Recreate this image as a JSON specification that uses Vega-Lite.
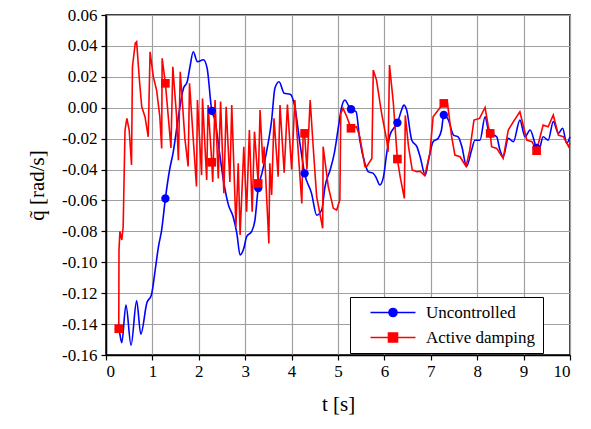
{
  "$schema": "https://vega.github.io/schema/vega-lite/v6.json",
  "autosize": "none",
  "width": 464,
  "height": 340,
  "padding": {"left": 106, "top": 15, "right": 21, "bottom": 74},
  "background": "white",
  "config": {
    "view": {"stroke": "black", "strokeWidth": 1.5}
  },
  "resolve": {"axis": {"x": "independent", "y": "independent"}},
  "data": {"values": [
    {"s":"Uncontrolled","t":0.27,"q":-0.1417,"m":0},
    {"s":"Uncontrolled","t":0.28,"q":-0.143,"m":1},
    {"s":"Uncontrolled","t":0.34,"q":-0.152,"m":0},
    {"s":"Uncontrolled","t":0.43,"q":-0.1277,"m":0},
    {"s":"Uncontrolled","t":0.54,"q":-0.1536,"m":0},
    {"s":"Uncontrolled","t":0.66,"q":-0.125,"m":0},
    {"s":"Uncontrolled","t":0.75,"q":-0.1465,"m":0},
    {"s":"Uncontrolled","t":0.88,"q":-0.1264,"m":0},
    {"s":"Uncontrolled","t":0.98,"q":-0.121,"m":0},
    {"s":"Uncontrolled","t":1.06,"q":-0.105,"m":0},
    {"s":"Uncontrolled","t":1.13,"q":-0.09,"m":0},
    {"s":"Uncontrolled","t":1.20,"q":-0.079,"m":0},
    {"s":"Uncontrolled","t":1.28,"q":-0.0587,"m":1},
    {"s":"Uncontrolled","t":1.37,"q":-0.0403,"m":0},
    {"s":"Uncontrolled","t":1.45,"q":-0.0285,"m":0},
    {"s":"Uncontrolled","t":1.56,"q":-0.0058,"m":0},
    {"s":"Uncontrolled","t":1.67,"q":0.0126,"m":0},
    {"s":"Uncontrolled","t":1.75,"q":0.0168,"m":0},
    {"s":"Uncontrolled","t":1.81,"q":0.0265,"m":0},
    {"s":"Uncontrolled","t":1.88,"q":0.0362,"m":0},
    {"s":"Uncontrolled","t":1.97,"q":0.0298,"m":0},
    {"s":"Uncontrolled","t":2.10,"q":0.031,"m":0},
    {"s":"Uncontrolled","t":2.18,"q":0.0255,"m":0},
    {"s":"Uncontrolled","t":2.28,"q":-0.002,"m":1},
    {"s":"Uncontrolled","t":2.35,"q":-0.008,"m":0},
    {"s":"Uncontrolled","t":2.42,"q":-0.023,"m":0},
    {"s":"Uncontrolled","t":2.53,"q":-0.0468,"m":0},
    {"s":"Uncontrolled","t":2.64,"q":-0.063,"m":0},
    {"s":"Uncontrolled","t":2.74,"q":-0.0705,"m":0},
    {"s":"Uncontrolled","t":2.82,"q":-0.0813,"m":0},
    {"s":"Uncontrolled","t":2.89,"q":-0.0953,"m":0},
    {"s":"Uncontrolled","t":2.97,"q":-0.091,"m":0},
    {"s":"Uncontrolled","t":3.03,"q":-0.0835,"m":0},
    {"s":"Uncontrolled","t":3.14,"q":-0.080,"m":0},
    {"s":"Uncontrolled","t":3.21,"q":-0.0727,"m":0},
    {"s":"Uncontrolled","t":3.28,"q":-0.052,"m":1},
    {"s":"Uncontrolled","t":3.36,"q":-0.0425,"m":0},
    {"s":"Uncontrolled","t":3.46,"q":-0.0285,"m":0},
    {"s":"Uncontrolled","t":3.57,"q":-0.008,"m":0},
    {"s":"Uncontrolled","t":3.64,"q":0.0126,"m":0},
    {"s":"Uncontrolled","t":3.73,"q":0.0168,"m":0},
    {"s":"Uncontrolled","t":3.84,"q":0.0093,"m":0},
    {"s":"Uncontrolled","t":3.97,"q":0.0087,"m":0},
    {"s":"Uncontrolled","t":4.07,"q":0.0006,"m":0},
    {"s":"Uncontrolled","t":4.18,"q":-0.023,"m":0},
    {"s":"Uncontrolled","t":4.28,"q":-0.0425,"m":1},
    {"s":"Uncontrolled","t":4.43,"q":-0.0554,"m":0},
    {"s":"Uncontrolled","t":4.54,"q":-0.0695,"m":0},
    {"s":"Uncontrolled","t":4.65,"q":-0.066,"m":0},
    {"s":"Uncontrolled","t":4.72,"q":-0.051,"m":0},
    {"s":"Uncontrolled","t":4.83,"q":-0.0403,"m":0},
    {"s":"Uncontrolled","t":4.92,"q":-0.0295,"m":0},
    {"s":"Uncontrolled","t":5.01,"q":-0.0123,"m":0},
    {"s":"Uncontrolled","t":5.08,"q":0.0006,"m":0},
    {"s":"Uncontrolled","t":5.15,"q":0.005,"m":0},
    {"s":"Uncontrolled","t":5.22,"q":0.0017,"m":0},
    {"s":"Uncontrolled","t":5.28,"q":-0.001,"m":1},
    {"s":"Uncontrolled","t":5.39,"q":-0.0026,"m":0},
    {"s":"Uncontrolled","t":5.47,"q":-0.021,"m":0},
    {"s":"Uncontrolled","t":5.58,"q":-0.036,"m":0},
    {"s":"Uncontrolled","t":5.65,"q":-0.0414,"m":0},
    {"s":"Uncontrolled","t":5.76,"q":-0.0425,"m":0},
    {"s":"Uncontrolled","t":5.83,"q":-0.0457,"m":0},
    {"s":"Uncontrolled","t":5.90,"q":-0.050,"m":0},
    {"s":"Uncontrolled","t":5.98,"q":-0.0447,"m":0},
    {"s":"Uncontrolled","t":6.05,"q":-0.0295,"m":0},
    {"s":"Uncontrolled","t":6.12,"q":-0.0177,"m":0},
    {"s":"Uncontrolled","t":6.20,"q":-0.0133,"m":0},
    {"s":"Uncontrolled","t":6.28,"q":-0.0097,"m":1},
    {"s":"Uncontrolled","t":6.37,"q":-0.0015,"m":0},
    {"s":"Uncontrolled","t":6.42,"q":0.0017,"m":0},
    {"s":"Uncontrolled","t":6.48,"q":-0.0015,"m":0},
    {"s":"Uncontrolled","t":6.59,"q":-0.021,"m":0},
    {"s":"Uncontrolled","t":6.70,"q":-0.0252,"m":0},
    {"s":"Uncontrolled","t":6.77,"q":-0.0317,"m":0},
    {"s":"Uncontrolled","t":6.88,"q":-0.0436,"m":0},
    {"s":"Uncontrolled","t":6.95,"q":-0.034,"m":0},
    {"s":"Uncontrolled","t":7.05,"q":-0.022,"m":0},
    {"s":"Uncontrolled","t":7.16,"q":-0.0198,"m":0},
    {"s":"Uncontrolled","t":7.23,"q":-0.0144,"m":0},
    {"s":"Uncontrolled","t":7.28,"q":-0.0047,"m":1},
    {"s":"Uncontrolled","t":7.38,"q":-0.008,"m":0},
    {"s":"Uncontrolled","t":7.49,"q":-0.0177,"m":0},
    {"s":"Uncontrolled","t":7.59,"q":-0.0188,"m":0},
    {"s":"Uncontrolled","t":7.67,"q":-0.0252,"m":0},
    {"s":"Uncontrolled","t":7.77,"q":-0.038,"m":0},
    {"s":"Uncontrolled","t":7.88,"q":-0.0274,"m":0},
    {"s":"Uncontrolled","t":7.95,"q":-0.021,"m":0},
    {"s":"Uncontrolled","t":8.06,"q":-0.021,"m":0},
    {"s":"Uncontrolled","t":8.17,"q":-0.0058,"m":0},
    {"s":"Uncontrolled","t":8.24,"q":-0.0144,"m":0},
    {"s":"Uncontrolled","t":8.28,"q":-0.0166,"m":1},
    {"s":"Uncontrolled","t":8.42,"q":-0.0188,"m":0},
    {"s":"Uncontrolled","t":8.49,"q":-0.0274,"m":0},
    {"s":"Uncontrolled","t":8.56,"q":-0.0317,"m":0},
    {"s":"Uncontrolled","t":8.67,"q":-0.0198,"m":0},
    {"s":"Uncontrolled","t":8.78,"q":-0.022,"m":0},
    {"s":"Uncontrolled","t":8.92,"q":-0.008,"m":0},
    {"s":"Uncontrolled","t":9.03,"q":-0.0188,"m":0},
    {"s":"Uncontrolled","t":9.14,"q":-0.0144,"m":0},
    {"s":"Uncontrolled","t":9.28,"q":-0.026,"m":1},
    {"s":"Uncontrolled","t":9.33,"q":-0.0274,"m":0},
    {"s":"Uncontrolled","t":9.42,"q":-0.0188,"m":0},
    {"s":"Uncontrolled","t":9.53,"q":-0.021,"m":0},
    {"s":"Uncontrolled","t":9.64,"q":-0.009,"m":0},
    {"s":"Uncontrolled","t":9.75,"q":-0.0166,"m":0},
    {"s":"Uncontrolled","t":9.84,"q":-0.0133,"m":0},
    {"s":"Uncontrolled","t":9.93,"q":-0.023,"m":0},
    {"s":"Uncontrolled","t":10.0,"q":-0.0188,"m":0},

    {"s":"Active damping","t":0.275,"q":-0.143,"m":1},
    {"s":"Active damping","t":0.28,"q":-0.092,"m":0},
    {"s":"Active damping","t":0.30,"q":-0.080,"m":0},
    {"s":"Active damping","t":0.34,"q":-0.0856,"m":0},
    {"s":"Active damping","t":0.37,"q":-0.077,"m":0},
    {"s":"Active damping","t":0.41,"q":-0.0144,"m":0},
    {"s":"Active damping","t":0.45,"q":-0.0069,"m":0},
    {"s":"Active damping","t":0.50,"q":-0.0144,"m":0},
    {"s":"Active damping","t":0.55,"q":-0.037,"m":0},
    {"s":"Active damping","t":0.57,"q":0.0265,"m":0},
    {"s":"Active damping","t":0.63,"q":0.0417,"m":0},
    {"s":"Active damping","t":0.66,"q":0.0427,"m":0},
    {"s":"Active damping","t":0.72,"q":0.0179,"m":0},
    {"s":"Active damping","t":0.77,"q":0.0006,"m":0},
    {"s":"Active damping","t":0.84,"q":-0.0058,"m":0},
    {"s":"Active damping","t":0.91,"q":-0.0188,"m":0},
    {"s":"Active damping","t":0.95,"q":0.0362,"m":0},
    {"s":"Active damping","t":1.02,"q":0.02,"m":0},
    {"s":"Active damping","t":1.09,"q":0.0115,"m":0},
    {"s":"Active damping","t":1.16,"q":-0.0058,"m":0},
    {"s":"Active damping","t":1.20,"q":-0.0263,"m":0},
    {"s":"Active damping","t":1.21,"q":0.032,"m":0},
    {"s":"Active damping","t":1.28,"q":0.0158,"m":1},
    {"s":"Active damping","t":1.40,"q":-0.026,"m":0},
    {"s":"Active damping","t":1.44,"q":0.0265,"m":0},
    {"s":"Active damping","t":1.52,"q":-0.005,"m":0},
    {"s":"Active damping","t":1.56,"q":-0.034,"m":0},
    {"s":"Active damping","t":1.60,"q":0.0233,"m":0},
    {"s":"Active damping","t":1.70,"q":-0.02,"m":0},
    {"s":"Active damping","t":1.77,"q":-0.038,"m":0},
    {"s":"Active damping","t":1.80,"q":0.0158,"m":0},
    {"s":"Active damping","t":1.88,"q":-0.02,"m":0},
    {"s":"Active damping","t":1.95,"q":-0.051,"m":0},
    {"s":"Active damping","t":1.97,"q":0.005,"m":0},
    {"s":"Active damping","t":2.06,"q":-0.0436,"m":0},
    {"s":"Active damping","t":2.08,"q":0.006,"m":0},
    {"s":"Active damping","t":2.17,"q":-0.0468,"m":0},
    {"s":"Active damping","t":2.20,"q":0.0017,"m":0},
    {"s":"Active damping","t":2.28,"q":-0.0353,"m":1},
    {"s":"Active damping","t":2.30,"q":-0.048,"m":0},
    {"s":"Active damping","t":2.35,"q":0.005,"m":0},
    {"s":"Active damping","t":2.42,"q":-0.0457,"m":0},
    {"s":"Active damping","t":2.47,"q":0.004,"m":0},
    {"s":"Active damping","t":2.54,"q":-0.0554,"m":0},
    {"s":"Active damping","t":2.59,"q":0.0006,"m":0},
    {"s":"Active damping","t":2.67,"q":-0.048,"m":0},
    {"s":"Active damping","t":2.71,"q":0.0017,"m":0},
    {"s":"Active damping","t":2.80,"q":-0.077,"m":0},
    {"s":"Active damping","t":2.85,"q":-0.036,"m":0},
    {"s":"Active damping","t":2.89,"q":-0.0824,"m":0},
    {"s":"Active damping","t":2.97,"q":-0.0252,"m":0},
    {"s":"Active damping","t":3.03,"q":-0.0673,"m":0},
    {"s":"Active damping","t":3.09,"q":-0.0144,"m":0},
    {"s":"Active damping","t":3.15,"q":-0.0673,"m":0},
    {"s":"Active damping","t":3.20,"q":-0.0155,"m":0},
    {"s":"Active damping","t":3.28,"q":-0.049,"m":1},
    {"s":"Active damping","t":3.32,"q":-0.0015,"m":0},
    {"s":"Active damping","t":3.38,"q":-0.036,"m":0},
    {"s":"Active damping","t":3.41,"q":-0.0252,"m":0},
    {"s":"Active damping","t":3.51,"q":-0.0878,"m":0},
    {"s":"Active damping","t":3.53,"q":-0.036,"m":0},
    {"s":"Active damping","t":3.57,"q":-0.0565,"m":0},
    {"s":"Active damping","t":3.62,"q":-0.0069,"m":0},
    {"s":"Active damping","t":3.71,"q":-0.0447,"m":0},
    {"s":"Active damping","t":3.75,"q":0.0017,"m":0},
    {"s":"Active damping","t":3.84,"q":-0.042,"m":0},
    {"s":"Active damping","t":3.91,"q":0.002,"m":0},
    {"s":"Active damping","t":4.00,"q":-0.040,"m":0},
    {"s":"Active damping","t":4.07,"q":0.005,"m":0},
    {"s":"Active damping","t":4.14,"q":-0.0274,"m":0},
    {"s":"Active damping","t":4.22,"q":-0.0619,"m":0},
    {"s":"Active damping","t":4.25,"q":-0.0144,"m":0},
    {"s":"Active damping","t":4.28,"q":-0.0166,"m":1},
    {"s":"Active damping","t":4.33,"q":-0.040,"m":0},
    {"s":"Active damping","t":4.40,"q":0.005,"m":0},
    {"s":"Active damping","t":4.47,"q":-0.0274,"m":0},
    {"s":"Active damping","t":4.54,"q":-0.0576,"m":0},
    {"s":"Active damping","t":4.67,"q":-0.078,"m":0},
    {"s":"Active damping","t":4.68,"q":-0.0252,"m":0},
    {"s":"Active damping","t":4.79,"q":-0.051,"m":0},
    {"s":"Active damping","t":4.90,"q":-0.0651,"m":0},
    {"s":"Active damping","t":4.97,"q":-0.0662,"m":0},
    {"s":"Active damping","t":5.04,"q":-0.0597,"m":0},
    {"s":"Active damping","t":5.06,"q":-0.0036,"m":0},
    {"s":"Active damping","t":5.11,"q":-0.0004,"m":0},
    {"s":"Active damping","t":5.19,"q":-0.0058,"m":0},
    {"s":"Active damping","t":5.28,"q":-0.0133,"m":1},
    {"s":"Active damping","t":5.40,"q":-0.0123,"m":0},
    {"s":"Active damping","t":5.47,"q":-0.0188,"m":0},
    {"s":"Active damping","t":5.58,"q":-0.038,"m":0},
    {"s":"Active damping","t":5.62,"q":-0.038,"m":0},
    {"s":"Active damping","t":5.73,"q":-0.0328,"m":0},
    {"s":"Active damping","t":5.76,"q":0.0244,"m":0},
    {"s":"Active damping","t":5.83,"q":0.0179,"m":0},
    {"s":"Active damping","t":5.94,"q":-0.0036,"m":0},
    {"s":"Active damping","t":6.05,"q":-0.021,"m":0},
    {"s":"Active damping","t":6.08,"q":-0.0285,"m":0},
    {"s":"Active damping","t":6.11,"q":0.0276,"m":0},
    {"s":"Active damping","t":6.19,"q":0.004,"m":0},
    {"s":"Active damping","t":6.28,"q":-0.0332,"m":1},
    {"s":"Active damping","t":6.34,"q":-0.0447,"m":0},
    {"s":"Active damping","t":6.43,"q":-0.0587,"m":0},
    {"s":"Active damping","t":6.45,"q":-0.005,"m":0},
    {"s":"Active damping","t":6.52,"q":-0.0252,"m":0},
    {"s":"Active damping","t":6.60,"q":-0.0403,"m":0},
    {"s":"Active damping","t":6.70,"q":-0.0414,"m":0},
    {"s":"Active damping","t":6.77,"q":-0.041,"m":0},
    {"s":"Active damping","t":6.87,"q":-0.044,"m":0},
    {"s":"Active damping","t":6.98,"q":-0.0295,"m":0},
    {"s":"Active damping","t":7.05,"q":-0.0058,"m":0},
    {"s":"Active damping","t":7.16,"q":-0.0015,"m":0},
    {"s":"Active damping","t":7.28,"q":0.0028,"m":1},
    {"s":"Active damping","t":7.36,"q":0.0028,"m":0},
    {"s":"Active damping","t":7.45,"q":-0.0188,"m":0},
    {"s":"Active damping","t":7.52,"q":-0.0306,"m":0},
    {"s":"Active damping","t":7.63,"q":-0.0317,"m":0},
    {"s":"Active damping","t":7.76,"q":-0.038,"m":0},
    {"s":"Active damping","t":7.84,"q":-0.0274,"m":0},
    {"s":"Active damping","t":7.93,"q":-0.008,"m":0},
    {"s":"Active damping","t":8.05,"q":-0.0069,"m":0},
    {"s":"Active damping","t":8.17,"q":0.0002,"m":0},
    {"s":"Active damping","t":8.24,"q":-0.0123,"m":0},
    {"s":"Active damping","t":8.28,"q":-0.0166,"m":1},
    {"s":"Active damping","t":8.31,"q":-0.0252,"m":0},
    {"s":"Active damping","t":8.42,"q":-0.0263,"m":0},
    {"s":"Active damping","t":8.56,"q":-0.0328,"m":0},
    {"s":"Active damping","t":8.67,"q":-0.0144,"m":0},
    {"s":"Active damping","t":8.78,"q":-0.009,"m":0},
    {"s":"Active damping","t":8.92,"q":-0.0026,"m":0},
    {"s":"Active damping","t":9.07,"q":-0.021,"m":0},
    {"s":"Active damping","t":9.18,"q":-0.022,"m":0},
    {"s":"Active damping","t":9.28,"q":-0.0278,"m":1},
    {"s":"Active damping","t":9.42,"q":-0.0112,"m":0},
    {"s":"Active damping","t":9.53,"q":-0.0123,"m":0},
    {"s":"Active damping","t":9.64,"q":-0.0047,"m":0},
    {"s":"Active damping","t":9.75,"q":-0.0177,"m":0},
    {"s":"Active damping","t":9.86,"q":-0.0188,"m":0},
    {"s":"Active damping","t":9.97,"q":-0.0252,"m":0},
    {"s":"Active damping","t":10.0,"q":-0.023,"m":0}
  ]},
  "layer": [
    {"transform": [{"filter": "datum.s === 'Uncontrolled'"}],
     "mark": {"type": "line", "interpolate": "monotone", "strokeWidth": 1.6},
     "encoding": {
       "x": {"field": "t", "type": "quantitative",
         "scale": {"domain": [0, 10], "nice": false, "zero": false},
         "axis": {"values": [0,1,2,3,4,5,6,7,8,9,10], "title": "t [s]",
           "grid": true, "gridColor": "#a0a0a0", "gridWidth": 1.2, "gridOpacity": 1,
           "labelFont": "Liberation Serif", "labelFontSize": 17, "labelColor": "black",
           "titleFont": "Liberation Serif", "titleFontSize": 21, "titleFontWeight": "normal", "titleColor": "black",
           "domainColor": "black", "domainWidth": 1.5, "tickColor": "black", "tickSize": 5, "tickWidth": 1.2,
           "titlePadding": 14, "labelPadding": 3}},
       "y": {"field": "q", "type": "quantitative",
         "scale": {"domain": [-0.16, 0.06], "nice": false, "zero": false},
         "axis": {"values": [-0.16,-0.14,-0.12,-0.1,-0.08,-0.06,-0.04,-0.02,0,0.02,0.04,0.06],
           "labelExpr": "replace(format(datum.value, '.2f'), '\u2212', '-')",
           "title": "q\u0303 [rad/s]",
           "grid": true, "gridColor": "#a0a0a0", "gridWidth": 1.2, "gridOpacity": 1,
           "labelFont": "Liberation Serif", "labelFontSize": 17, "labelColor": "black",
           "titleFont": "Liberation Serif", "titleFontSize": 21, "titleFontWeight": "normal", "titleColor": "black",
           "domainColor": "black", "domainWidth": 1.5, "tickColor": "black", "tickSize": 5, "tickWidth": 1.2,
           "titlePadding": 14, "labelPadding": 4}},
       "color": {"field": "s", "type": "nominal",
         "scale": {"domain": ["Uncontrolled", "Active damping"], "range": ["#0000ff", "#ff0000"]},
         "legend": {
           "title": null, "orient": "none", "legendX": 244, "legendY": 282,
           "strokeColor": "black", "fillColor": "white", "padding": 7,
           "labelFont": "Liberation Serif", "labelFontSize": 17, "labelColor": "black",
           "labelOffset": 52, "rowPadding": 7,
           "symbolType": "M1,0L10,0",
           "symbolSize": 100,
           "encode": {"symbols": {"update": {
             "fill": {"scale": "color", "field": "value"},
             "shape": {"signal": "datum.value === 'Uncontrolled' ? 'M1,0L10,0M4.7,0A0.8,0.8 0 1,1 6.3,0A0.8,0.8 0 1,1 4.7,0Z' : 'M1,0L10,0M4.6,-0.9L6.4,-0.9L6.4,0.9L4.6,0.9Z'"},
             "size": {"value": 100},
             "strokeWidth": {"value": 1.6},
             "opacity": {"value": 1}
           }}}
         }}
     }},
    {"transform": [{"filter": "datum.s === 'Active damping'"}],
     "mark": {"type": "line", "strokeWidth": 1.6},
     "encoding": {
       "x": {"field": "t", "type": "quantitative", "axis": null},
       "y": {"field": "q", "type": "quantitative", "axis": null},
       "color": {"field": "s", "type": "nominal"}
     }},
    {"transform": [{"filter": "datum.m === 1 && datum.s === 'Uncontrolled'"}],
     "mark": {"type": "point", "shape": "circle", "filled": true, "opacity": 1, "size": 70},
     "encoding": {
       "x": {"field": "t", "type": "quantitative", "axis": null},
       "y": {"field": "q", "type": "quantitative", "axis": null},
       "color": {"field": "s", "type": "nominal"}
     }},
    {"transform": [{"filter": "datum.m === 1 && datum.s === 'Active damping'"}],
     "mark": {"type": "point", "shape": "square", "filled": true, "opacity": 1, "size": 75},
     "encoding": {
       "x": {"field": "t", "type": "quantitative", "axis": null},
       "y": {"field": "q", "type": "quantitative", "axis": null},
       "color": {"field": "s", "type": "nominal"}
     }}
  ]
}
